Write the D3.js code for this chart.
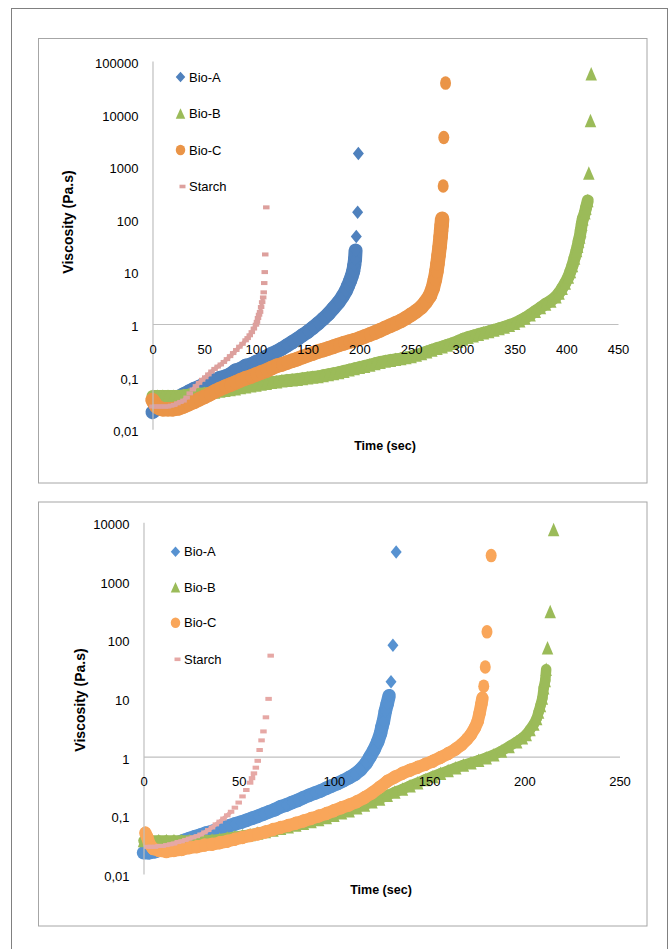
<!DOCTYPE html>
<html>
<head>
<meta charset="utf-8">
<script src="https://cdn.jsdelivr.net/npm/d3@7"></script>
<style>
body { margin: 0; background: #fff; }
text { font-family: "Liberation Sans", Arial, sans-serif; fill: #000; }
</style>
</head>
<body>
<div id="chart-area"></div>
<script>
/*
*    viscosity vs time, two log charts
*/

// ---- top chart: [time (sec), viscosity (Pa.s)]
var bioA1 = [[0,0.021],[5,0.025],[10,0.028],[15,0.032],[20,0.036],[25,0.041],[30,0.046],[35,0.052],[40,0.058],[45,0.064],
    [50,0.071],[55,0.078],[60,0.085],[65,0.094],[70,0.10],[75,0.11],[80,0.13],[85,0.14],[90,0.16],[95,0.17],
    [100,0.19],[105,0.21],[110,0.24],[115,0.27],[120,0.30],[125,0.34],[130,0.39],[135,0.45],[140,0.52],[145,0.61],
    [150,0.71],[155,0.85],[160,1.02],[165,1.25],[170,1.55],[175,2.0],[180,2.6],[184,3.4],[187,4.3],[189,5.3],
    [191,6.6],[192.5,8],[194,10],[195,13],[195.8,17],[196.3,25],[197,46],[198.3,133],[199,1750]];

var bioB1 = [[0,0.043],[5,0.043],[10,0.043],[15,0.043],[20,0.043],[25,0.043],[30,0.044],[35,0.045],[40,0.046],[45,0.047],
    [50,0.048],[55,0.049],[60,0.051],[65,0.053],[70,0.055],[75,0.057],[80,0.059],[85,0.062],[90,0.064],[95,0.067],
    [100,0.069],[105,0.072],[110,0.075],[115,0.078],[120,0.080],[125,0.083],[130,0.085],[135,0.087],[140,0.089],[145,0.092],
    [150,0.095],[155,0.098],[160,0.10],[165,0.105],[170,0.11],[175,0.115],[180,0.12],[185,0.127],[190,0.135],[195,0.142],
    [200,0.15],[205,0.158],[210,0.167],[215,0.178],[220,0.188],[225,0.197],[230,0.205],[235,0.213],[240,0.22],[245,0.23],
    [250,0.24],[255,0.257],[260,0.275],[265,0.297],[270,0.32],[275,0.345],[280,0.37],[285,0.40],[290,0.43],[295,0.47],
    [300,0.52],[305,0.56],[310,0.60],[315,0.64],[320,0.68],[325,0.72],[330,0.77],[335,0.82],[340,0.88],[345,0.95],
    [350,1.03],[355,1.15],[360,1.3],[365,1.5],[370,1.75],[375,2.05],[380,2.4],[385,2.75],[390,3.3],[393,3.9],
    [396,4.8],[399,6.0],[402,7.8],[404,10],[406,13],[408,18],[410,25],[411,30],[412,38],[413,45],
    [414,60],[415,80],[416,100],[418,130],[419,160],[420.8,223],[421.8,740],[423.4,7400],[424.1,57000]];

var bioC1 = [[0,0.036],[2,0.031],[4,0.027],[7,0.025],[10,0.024],[15,0.024],[20,0.024],[25,0.025],[30,0.027],[35,0.030],
    [40,0.033],[45,0.037],[50,0.041],[55,0.046],[60,0.052],[65,0.058],[70,0.064],[75,0.070],[80,0.077],[85,0.085],
    [90,0.093],[95,0.10],[100,0.11],[105,0.12],[110,0.13],[115,0.145],[120,0.16],[125,0.17],[130,0.185],[135,0.20],
    [140,0.215],[145,0.235],[150,0.255],[155,0.275],[160,0.30],[165,0.32],[170,0.345],[175,0.37],[180,0.40],[185,0.43],
    [190,0.46],[195,0.49],[200,0.53],[205,0.58],[210,0.63],[215,0.69],[220,0.76],[225,0.84],[230,0.93],[235,1.03],
    [240,1.14],[245,1.3],[250,1.5],[255,1.75],[260,2.1],[264,2.6],[268,3.4],[271,4.8],[273,7],[274.5,10],
    [275.5,14],[276.5,20],[277.5,29],[278.5,45],[279,60],[279.5,75],[280,100],[281,420],[281.6,3500],[283.3,38000]];

var starch1 = [[0,0.027],[3,0.027],[6,0.027],[9,0.027],[12,0.027],[15,0.027],[18,0.028],[21,0.029],[24,0.031],[27,0.033],
    [30,0.035],[33,0.040],[36,0.048],[39,0.057],[42,0.066],[45,0.076],[48,0.087],[51,0.097],[54,0.11],[57,0.125],
    [60,0.14],[63,0.155],[66,0.17],[69,0.19],[72,0.215],[75,0.245],[78,0.28],[81,0.32],[84,0.37],[87,0.42],
    [90,0.49],[92,0.54],[94,0.61],[96,0.70],[98,0.82],[100,0.97],[101,1.1],[102,1.3],[103,1.5],[104,1.7],
    [105,2.1],[106,2.6],[107,3.2],[107.5,4.0],[108,6],[108.5,9.7],[109,21],[110,165]];

var xTicks1 = [0, 50, 100, 150, 200, 250, 300, 350, 400, 450];
var yTicks1 = [0.01, 0.1, 1, 10, 100, 1000, 10000, 100000];
var yLabels1 = ["0,01", "0,1", "1", "10", "100", "1000", "10000", "100000"];

// ---- bottom chart
var bioA2 = [[0,0.023],[3,0.023],[6,0.024],[9,0.026],[12,0.028],[15,0.031],[18,0.034],[21,0.037],[24,0.040],[27,0.043],
    [30,0.046],[33,0.050],[36,0.053],[39,0.057],[42,0.061],[45,0.066],[48,0.071],[51,0.076],[54,0.082],[57,0.089],
    [60,0.096],[63,0.105],[66,0.115],[69,0.125],[72,0.14],[75,0.15],[78,0.165],[81,0.18],[84,0.20],[87,0.22],
    [90,0.24],[93,0.26],[96,0.29],[99,0.32],[102,0.35],[105,0.39],[108,0.44],[111,0.50],[114,0.60],[117,0.78],
    [119,1.0],[121,1.3],[123,1.8],[124.5,2.5],[125.2,3.2],[126,4.0],[127,6],[128,8],[129,11],[130,19],
    [131,80],[132.7,3100]];

var bioB2 = [[0,0.037],[4,0.037],[8,0.037],[12,0.037],[16,0.037],[20,0.037],[24,0.037],[28,0.037],[32,0.037],[36,0.038],
    [40,0.039],[44,0.041],[48,0.043],[52,0.045],[56,0.047],[60,0.050],[64,0.053],[68,0.056],[72,0.060],[76,0.064],
    [80,0.068],[84,0.073],[88,0.078],[92,0.085],[96,0.092],[100,0.10],[104,0.11],[108,0.12],[112,0.135],[116,0.15],
    [120,0.17],[124,0.19],[128,0.22],[132,0.25],[136,0.28],[140,0.32],[144,0.36],[148,0.41],[152,0.46],[156,0.52],
    [160,0.58],[164,0.65],[168,0.72],[172,0.79],[176,0.87],[180,0.96],[184,1.08],[188,1.25],[192,1.5],[196,1.8],
    [199,2.1],[201,2.4],[203,2.9],[205,3.6],[206.5,4.5],[207.5,5.8],[208.5,7.5],[209.5,10],[210.2,15],[211,20],
    [211.5,31],[212.2,72],[213.6,300],[215.4,7500]];

var bioC2 = [[1,0.05],[2,0.042],[3,0.033],[5,0.027],[8,0.025],[12,0.024],[16,0.025],[20,0.026],[24,0.028],[28,0.029],
    [32,0.031],[36,0.032],[40,0.034],[44,0.036],[48,0.039],[52,0.042],[56,0.045],[60,0.048],[64,0.052],[68,0.057],
    [72,0.062],[76,0.067],[80,0.073],[84,0.080],[88,0.088],[92,0.097],[96,0.107],[100,0.12],[104,0.135],[108,0.15],
    [112,0.17],[116,0.20],[120,0.24],[124,0.30],[128,0.38],[132,0.45],[136,0.52],[140,0.59],[144,0.66],[148,0.74],
    [152,0.84],[156,0.97],[160,1.13],[164,1.35],[167,1.6],[170,2.0],[172,2.4],[174,3.1],[175.5,4],[176.5,5.5],
    [177.5,8],[178,10],[178.7,16],[179.5,34],[180.4,135],[182.6,2700]];

var starch2 = [[2,0.029],[4,0.029],[6,0.029],[8,0.030],[10,0.030],[12,0.031],[14,0.032],[16,0.033],[18,0.035],[20,0.036],
    [22,0.038],[24,0.040],[26,0.042],[28,0.044],[30,0.047],[32,0.051],[34,0.056],[36,0.062],[38,0.070],[40,0.078],
    [42,0.088],[44,0.10],[46,0.115],[48,0.135],[50,0.165],[52,0.21],[54,0.27],[56,0.36],[57,0.43],[58,0.52],
    [59,0.65],[60,0.85],[61,1.3],[62,1.9],[63,2.7],[64.3,4.7],[65.7,9.7],[66.8,53]];

var xTicks2 = [0, 50, 100, 150, 200, 250];
var yTicks2 = [0.01, 0.1, 1, 10, 100, 1000, 10000];
var yLabels2 = ["0,01", "0,1", "1", "10", "100", "1000", "10000"];

var seriesNames = ["Bio-A", "Bio-B", "Bio-C", "Starch"];
var seriesShapes = ["diamond", "triangle", "circle", "dash"];


var svg = d3.select("#chart-area").append("svg")
    .attr("width", 669)
    .attr("height", 949);

// page frame
svg.append("rect")
    .attr("x", 11.5).attr("y", 8.5)
    .attr("width", 656).attr("height", 960)
    .attr("fill", "none")
    .attr("stroke", "#808080");

// marker outline centred on 0,0
function markerPath(kind, w, h) {
    if (kind == "diamond") {
        return "M0," + (-h / 2) + "L" + (w / 2) + ",0L0," + (h / 2) + "L" + (-w / 2) + ",0Z";
    }
    if (kind == "triangle") {
        return "M0," + (-h / 2) + "L" + (w / 2) + "," + (h / 2) + "L" + (-w / 2) + "," + (h / 2) + "Z";
    }
    if (kind == "circle") {
        var rx = w / 2, ry = h / 2;
        return "M" + (-rx) + ",0A" + rx + "," + ry + " 0 1,0 " + rx + ",0A" + rx + "," + ry + " 0 1,0 " + (-rx) + ",0Z";
    }
    // starch: short flat dash
    return "M" + (-w / 2) + "," + (-h / 2) + "h" + w + "v" + h + "h" + (-w) + "Z";
}

var markerW = { diamond: 11, triangle: 11.5, circle: 11, dash: 6.5 };
var markerH = { diamond: 13.5, triangle: 13.5, circle: 13.5, dash: 4 };

function drawChart(o) {
    var g = svg.append("g");

    g.append("rect")
        .attr("x", 38.5).attr("y", o.boxTop)
        .attr("width", 608.5).attr("height", o.boxHeight)
        .attr("fill", "none")
        .attr("stroke", "#a6a6a6");

    var x = d3.scaleLinear().domain([0, o.xTicks[o.xTicks.length - 1]]).range([o.x0, o.x1]);
    var y = d3.scaleLog().domain([o.yTicks[0], o.yTicks[o.yTicks.length - 1]]).range([o.yBottom, o.yTop]);

    var lineLayer = g.append("g").attr("transform", "translate(0," + y(1) + ")");
    var seriesLayer = g.append("g");

    var yAxis = g.append("g")
        .attr("transform", "translate(" + o.x0 + ",0)")
        .call(d3.axisLeft(y)
            .tickValues(o.yTicks)
            .tickFormat((d, i) => o.yLabels[i])
            .tickSize(0)
            .tickSizeOuter(0)
            .tickPadding(14));
    yAxis.selectAll(".tick text").attr("y", 2.3);

    var xAxis = g.append("g")
        .attr("transform", "translate(0," + y(1) + ")")
        .call(d3.axisBottom(x)
            .tickValues(o.xTicks)
            .tickSize(0)
            .tickSizeOuter(0)
            .tickPadding(20.5));
    // the horizontal axis line goes under the points, its labels over them
    lineLayer.node().appendChild(xAxis.select(".domain").node());

    g.selectAll(".domain").attr("stroke", "#bfbfbf").attr("stroke-width", 1.2);
    g.selectAll(".tick text")
        .attr("font-family", "Liberation Sans, Arial, sans-serif")
        .attr("font-size", 13)
        .attr("fill", "#000");

    // series, drawn in legend order so later ones sit on top
    o.series.forEach((s, k) => {
        var kind = seriesShapes[k];
        var sg = seriesLayer.append("g");
        var pts = s.map((d) => [x(d[0]), y(d[1])]);

        // dense readings run together into a band
        var pairs = d3.pairs(pts).filter((p) => Math.hypot(p[1][0] - p[0][0], p[1][1] - p[0][1]) < o.gap[k]);
        sg.selectAll("line")
            .data(pairs)
            .enter().append("line")
            .attr("x1", (p) => p[0][0]).attr("y1", (p) => p[0][1])
            .attr("x2", (p) => p[1][0]).attr("y2", (p) => p[1][1])
            .attr("stroke", o.colors[k])
            .attr("stroke-width", o.band[k])
            .attr("stroke-linecap", kind == "dash" ? "butt" : "round");

        sg.selectAll("path")
            .data(pts)
            .enter().append("path")
            .attr("d", markerPath(kind, markerW[kind], markerH[kind]))
            .attr("transform", (d) => "translate(" + d[0] + "," + d[1] + ")")
            .attr("fill", o.colors[k]);
    });

    // legend
    seriesNames.forEach((name, k) => {
        var ly = o.legendY[k];
        var kind = seriesShapes[k];
        g.append("path")
            .attr("d", markerPath(kind, kind == "dash" ? 6 : 9.5, kind == "dash" ? 3.6 : 10.5))
            .attr("transform", "translate(" + (o.legendX + (kind == "dash" ? 2 : 0)) + "," + ly + ")")
            .attr("fill", o.colors[k]);
        g.append("text")
            .attr("x", o.legendX + 8.5)
            .attr("y", ly + 4.7)
            .attr("font-size", 13)
            .text(name);
    });

    g.append("text")
        .attr("x", o.xTitle[0]).attr("y", o.xTitle[1])
        .attr("text-anchor", "middle")
        .attr("font-size", 12.5)
        .attr("font-weight", "bold")
        .text("Time (sec)");

    g.append("text")
        .attr("transform", "translate(" + o.yTitle[0] + "," + o.yTitle[1] + ") rotate(-90)")
        .attr("text-anchor", "middle")
        .attr("dy", "0.35em")
        .attr("font-size", 14)
        .attr("font-weight", "bold")
        .text("Viscosity (Pa.s)");
}

drawChart({
    boxTop: 38.5, boxHeight: 444.5,
    x0: 152.5, x1: 618, yBottom: 429.2, yTop: 61,
    xTicks: xTicks1, yTicks: yTicks1, yLabels: yLabels1,
    series: [bioA1, bioB1, bioC1, starch1],
    colors: ["#4f81bd", "#9bbb59", "#ea9447", "#dda09d"],
    band: [14, 12, 14.5, 4],
    gap: [12.5, 12.5, 12.5, 5],
    legendX: 180.5, legendY: [77, 113.5, 150, 186.5],
    xTitle: [385, 449.5], yTitle: [68.5, 222]
});

drawChart({
    boxTop: 502, boxHeight: 424,
    x0: 143.5, x1: 619.5, yBottom: 873.9, yTop: 522.3,
    xTicks: xTicks2, yTicks: yTicks2, yLabels: yLabels2,
    series: [bioA2, bioB2, bioC2, starch2],
    colors: ["#5792d1", "#9bbb59", "#f9a65a", "#e6a8a5"],
    band: [13.5, 10.5, 12.5, 4],
    gap: [11.5, 11.5, 11.5, 5.5],
    legendX: 175.5, legendY: [551.7, 587.3, 622.7, 659.3],
    xTitle: [381, 893.5], yTitle: [80.5, 700]
});
</script>
</body>
</html>
